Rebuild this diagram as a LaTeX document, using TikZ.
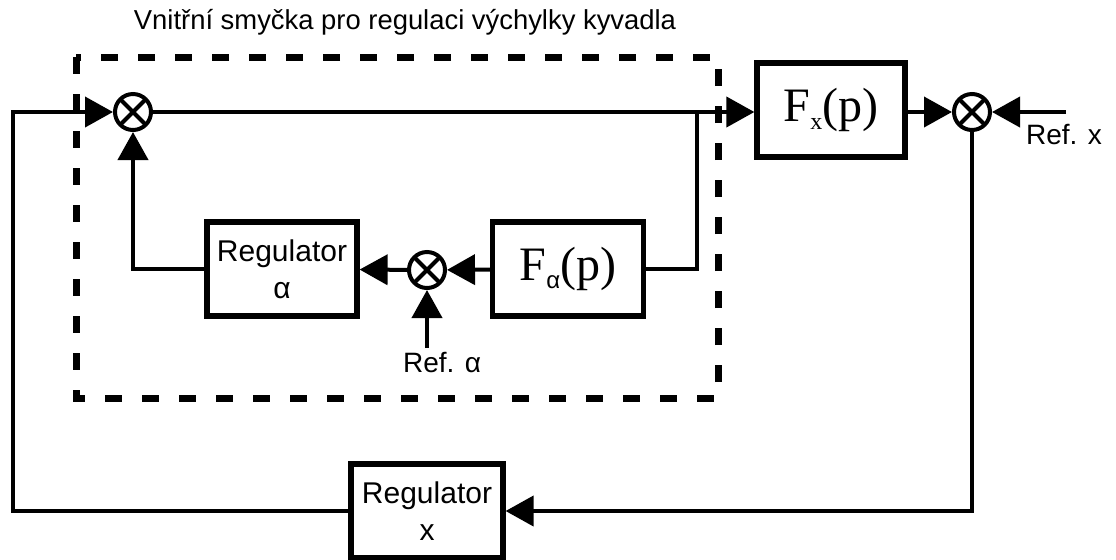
\documentclass[tikz,border=0pt]{standalone}
\usepackage{fontspec}
\setmainfont{Liberation Sans}
\newfontfamily\tnr{Liberation Serif}
\newfontfamily\arial{Liberation Sans}
\usetikzlibrary{arrows.meta, positioning}
\newcommand{\lowsub}[1]{\raisebox{-0.35ex}{\fontsize{12}{12}\selectfont #1}}

\begin{document}
\begin{tikzpicture}[x=0.5pt, y=-0.5pt,
    wire/.style={line width=2pt},
    arr/.style={wire, -{Triangle[length=14pt, width=15pt]}},
    block/.style={draw, line width=2.6pt, minimum width=75pt, minimum height=47pt,
        inner sep=0pt, align=center, font=\fontsize{15}{18.5}\selectfont},
    plant/.style={block, font=\tnr\fontsize{24}{28}\selectfont},
    sumnode/.style={draw, circle, line width=2pt, minimum size=18pt, inner sep=0pt,
        path picture={
            \draw[line width=2pt] (path picture bounding box.north west) -- (path picture bounding box.south east);
            \draw[line width=2pt] (path picture bounding box.north east) -- (path picture bounding box.south west);
        }},
    lbl/.style={font=\fontsize{14}{16}\selectfont, inner sep=0pt}]
    \useasboundingbox (0,0) rectangle (1116,559);

    % inner loop frame
    \draw[line width=3.5pt, dash pattern=on 8.5pt off 10pt] (76,57) rectangle (718,398);
    \node[lbl, font=\fontsize{13.7}{16}\selectfont] (title) at (405,22) {Vnitřní smyčka pro regulaci výchylky kyvadla};

    \node[sumnode] (sumIn) at (133,112) {};
    \node[plant, minimum width=74pt] (fx) at (831,110) {F\lowsub{x}(p)};
    \node[sumnode] (sumOut) at (972,112) {};
    \node[block] (regA) at (282,269) {Regulator\\α};
    \node[sumnode] (sumA) at (427,270) {};
    \node[plant, minimum width=75.5pt] (fa) at (568,269) {F\lowsub{\arial α}(p)};
    \node[block, minimum width=76pt] (regX) at (427,511) {Regulator\\x};

    \coordinate (tap) at (697,112);
    \coordinate (refXin) at (1066,112);
    \coordinate (refAin) at (427,348);
    \coordinate (fbx) at (13,112);
    \node[lbl, anchor=north] (refX) at (1064,124) {Ref. x};
    \node[lbl, anchor=north] (refA) at (442,352) {Ref. α};

    \draw[arr] (sumIn.east) -- (fx.west |- sumIn.east);
    \draw[wire] (tap) |- (fa.east);
    \draw[arr] (fa) -- (sumA);
    \draw[arr] (refAin) -- (sumA.south);
    \draw[arr] (sumA) -- (regA);
    \draw[arr] (regA.west) -| (sumIn.south);
    \draw[arr] (fx.east |- sumOut.west) -- (sumOut.west);
    \draw[arr] (refXin) -- (sumOut.east);
    \draw[arr] (sumOut.south) |- (regX.east);
    \draw[arr] (regX.west) -| (fbx) -- (sumIn.west);
\end{tikzpicture}
\end{document}
